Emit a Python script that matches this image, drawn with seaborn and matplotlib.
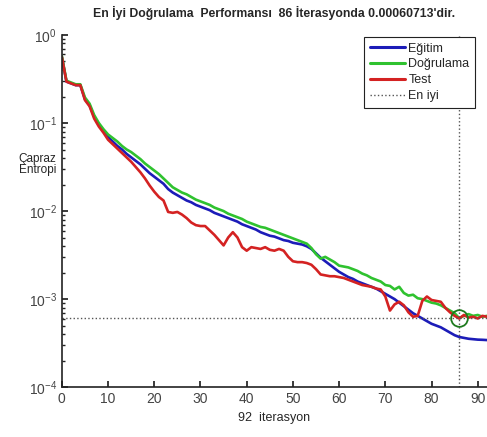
import numpy as np
import pandas as pd
import matplotlib
matplotlib.use("Agg")
import matplotlib.pyplot as plt
from matplotlib.lines import Line2D
import seaborn as sns

# log10 of cross entropy, epochs 0..92
iterasyon = list(range(93))

egitim_log = [-0.25, -0.53, -0.55, -0.57, -0.57, -0.73, -0.80, -0.93, -1.02, -1.09,
              -1.16, -1.21, -1.26, -1.30, -1.35, -1.39, -1.43, -1.47, -1.52, -1.57,
              -1.61, -1.65, -1.69, -1.75, -1.79, -1.82, -1.85, -1.88, -1.90, -1.93,
              -1.95, -1.97, -1.99, -2.02, -2.04, -2.06, -2.08, -2.10, -2.12, -2.15,
              -2.17, -2.19, -2.21, -2.24, -2.26, -2.28, -2.29, -2.31, -2.33, -2.34,
              -2.36, -2.37, -2.38, -2.40, -2.43, -2.48, -2.53, -2.57, -2.61, -2.65,
              -2.69, -2.72, -2.75, -2.77, -2.80, -2.82, -2.84, -2.86, -2.88, -2.91,
              -2.94, -2.97, -3.00, -3.04, -3.08, -3.12, -3.16, -3.19, -3.22, -3.25,
              -3.28, -3.30, -3.32, -3.35, -3.38, -3.41, -3.43, -3.44, -3.45, -3.455,
              -3.46, -3.462, -3.465]

dogrulama_log = [-0.24, -0.52, -0.54, -0.56, -0.56, -0.71, -0.78, -0.91, -1.00, -1.07,
                 -1.13, -1.17, -1.21, -1.26, -1.30, -1.33, -1.37, -1.41, -1.46, -1.50,
                 -1.54, -1.58, -1.63, -1.68, -1.73, -1.76, -1.79, -1.81, -1.84, -1.87,
                 -1.89, -1.91, -1.93, -1.96, -1.98, -2.00, -2.03, -2.05, -2.07, -2.09,
                 -2.12, -2.14, -2.16, -2.18, -2.19, -2.21, -2.23, -2.25, -2.27, -2.29,
                 -2.31, -2.33, -2.35, -2.37, -2.42, -2.49, -2.54, -2.52, -2.55, -2.58,
                 -2.62, -2.63, -2.64, -2.66, -2.68, -2.71, -2.73, -2.76, -2.78, -2.80,
                 -2.84, -2.85, -2.89, -2.86, -2.93, -2.96, -2.95, -2.99, -3.00, -3.02,
                 -3.04, -3.05, -3.07, -3.10, -3.13, -3.16, -3.217, -3.19, -3.17, -3.19,
                 -3.18, -3.20, -3.19]

test_log = [-0.25, -0.53, -0.55, -0.57, -0.57, -0.74, -0.81, -0.95, -1.04, -1.11,
            -1.19, -1.24, -1.29, -1.34, -1.39, -1.44, -1.50, -1.56, -1.63, -1.71,
            -1.78, -1.84, -1.88, -2.01, -2.02, -2.01, -2.04, -2.08, -2.13, -2.16,
            -2.17, -2.17, -2.22, -2.27, -2.33, -2.39, -2.30, -2.24, -2.30, -2.41,
            -2.45, -2.41, -2.42, -2.43, -2.41, -2.44, -2.45, -2.43, -2.45, -2.52,
            -2.57, -2.58, -2.58, -2.59, -2.61, -2.66, -2.72, -2.73, -2.74, -2.74,
            -2.75, -2.76, -2.78, -2.80, -2.82, -2.84, -2.85, -2.86, -2.88, -2.89,
            -2.97, -3.13, -3.06, -3.03, -3.07, -3.15, -3.20, -3.19, -3.02, -2.97,
            -3.01, -3.02, -3.03, -3.10, -3.15, -3.19, -3.22, -3.18, -3.21, -3.20,
            -3.22, -3.19, -3.20]

seriler = ["Eğitim", "Doğrulama", "Test"]
renkler = ["#1c1cb8", "#2fc22f", "#d42222"]
en_iyi_iter = 86
en_iyi_deger = 0.00060713

df = pd.DataFrame({
    "iterasyon": iterasyon * 3,
    "entropi": 10 ** np.array(egitim_log + dogrulama_log + test_log),
    "seri": sum([[s] * len(iterasyon) for s in seriler], []),
})

sns.set_theme(style="white")
plt.rcParams['font.family'] = ['Liberation Sans', 'DejaVu Sans']
plt.rcParams['axes.unicode_minus'] = False

fig = plt.figure(figsize=(4.87, 4.37), dpi=100)
ax = fig.add_axes([0.127, 0.114, 0.873, 0.806])

sns.lineplot(data=df, x="iterasyon", y="entropi", hue="seri",
             palette=dict(zip(seriler, renkler)), linewidth=1.9,
             legend=False, ax=ax)

ax.set_yscale("log")
ax.set_xlim(0, 92)
ax.set_ylim(1e-4, 1)

ax.axvline(en_iyi_iter, color="#555555", linestyle=":", linewidth=1)
ax.axhline(en_iyi_deger, color="#555555", linestyle=":", linewidth=1)
ax.plot(en_iyi_iter, en_iyi_deger, "o", mfc="none", mec="#1e7a1e",
        ms=12, mew=1.3)

ax.set_xticks(range(0, 91, 10))
ax.tick_params(axis="both", which="both", direction="in", colors="#222222",
               labelcolor="#444444", labelsize=10)
ax.tick_params(axis="both", which="major", length=4, left=True, bottom=True)
ax.tick_params(axis="y", which="minor", length=2.5, left=True)
for s in ["top", "right"]:
    ax.spines[s].set_visible(False)
for s in ["left", "bottom"]:
    ax.spines[s].set_color("#222222")
    ax.spines[s].set_linewidth(1.2)

ax.set_title("En İyi Doğrulama  Performansı  86 İterasyonda 0.00060713'dir.",
             fontsize=8.8, fontweight="bold", pad=13)
ax.set_xlabel("92  iterasyon", fontsize=9)
ax.set_ylabel("Çapraz\nEntropi", fontsize=8.5, rotation=0, labelpad=2,
              linespacing=0.9)
ax.yaxis.set_label_coords(-0.057, 0.6)

handles = [Line2D([], [], color=c, linewidth=2.2) for c in renkler]
handles.append(Line2D([], [], color="#555555", linestyle=":", linewidth=1))
leg = ax.legend(handles, seriler + ["En iyi"], loc="upper right",
                bbox_to_anchor=(0.972, 0.994), borderaxespad=0,
                fontsize=9, handlelength=2.8, handletextpad=0.3,
                labelspacing=0.3, fancybox=False, framealpha=1,
                edgecolor="#222222", borderpad=0.45)
leg.get_frame().set_linewidth(0.8)

plt.savefig("out.png", dpi=100)
